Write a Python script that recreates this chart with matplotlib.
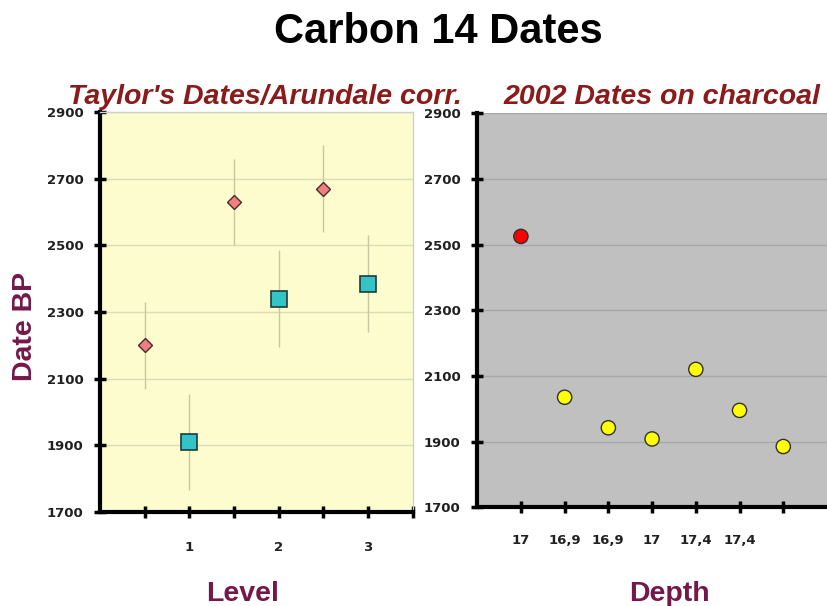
import matplotlib.pyplot as plt

# --- Data ---
level_x = [0.5, 1.5, 2.5]
taylor_dates = [2200, 2630, 2670]
taylor_err = [130, 130, 130]

arundale_x = [1, 2, 3]
arundale_dates = [1910, 2340, 2385]
arundale_err = [145, 145, 145]

depth_labels = ["17", "16,9", "16,9", "17", "17,4", "17,4", ""]
charcoal_dates = [2525, 2035, 1942, 1908, 2120, 1995, 1885]

y_ticks = [1700, 1900, 2100, 2300, 2500, 2700, 2900]

plt.rcParams['font.family'] = ['Liberation Sans', 'DejaVu Sans']
label_col = "#74184a"
sub_col = "#8b1a1a"

fig = plt.figure(figsize=(8.27, 6.06), dpi=100)
fig.text(0.530, 0.947, "Carbon 14 Dates", ha="center", va="center",
         fontsize=30, fontweight="bold")

# --- Left panel ---
ax1 = fig.add_axes([0.121, 0.155, 0.378, 0.660])
ax1.set_facecolor("#fdfcce")
ax1.errorbar(level_x, taylor_dates, yerr=taylor_err, fmt="D", ms=7.5,
             mfc="#f08080", mec="#4a2a2a", mew=1, ecolor="#c8c8a0", elinewidth=1)
ax1.errorbar(arundale_x, arundale_dates, yerr=arundale_err, fmt="s", ms=11,
             mfc="#33c4c8", mec="#1f3a3a", mew=1.2, ecolor="#c8c8a0", elinewidth=1)
ax1.set_xlim(0, 3.5)
ax1.set_ylim(1700, 2900)
ax1.set_yticks(y_ticks)
xt = [0.5, 1, 1.5, 2, 2.5, 3, 3.5]
ax1.set_xticks(xt)
ax1.set_xticklabels(["", "1", "", "2", "", "3", ""])
ax1.grid(axis="y", color="#dedcb8", lw=1)
ax1.set_axisbelow(True)
for s in ["top", "right"]:
    ax1.spines[s].set_color("#d0d0d0")
    ax1.spines[s].set_linewidth(1)
for s in ["left", "bottom"]:
    ax1.spines[s].set_linewidth(3)
ax1.tick_params(direction="inout", length=8, width=2.5)
ax1.tick_params(axis="x", pad=17)
ax1.tick_params(axis="y", pad=8)
ax1.set_title("Taylor's Dates/Arundale corr.", color=sub_col, fontsize=20.5,
              fontweight="bold", fontstyle="italic", pad=6, x=0.527)
ax1.set_ylabel("Date BP", color=label_col, fontsize=20.5, fontweight="bold")
ax1.yaxis.set_label_coords(-0.198, 0.465)

# --- Right panel ---
ax2 = fig.add_axes([0.577, 0.163, 0.423, 0.650])
ax2.set_facecolor("#c0c0c0")
pos = list(range(1, len(charcoal_dates) + 1))
colors = ["#ff0000"] + ["#ffff00"] * (len(charcoal_dates) - 1)
ax2.scatter(pos, charcoal_dates, s=105, c=colors, edgecolors="#303030",
            linewidths=1, zorder=3)
ax2.set_xlim(0, 8.0)
ax2.set_ylim(1700, 2900)
ax2.set_yticks(y_ticks)
ax2.set_xticks(pos)
ax2.set_xticklabels(depth_labels)
ax2.grid(axis="y", color="#a8a8a8", lw=1)
ax2.set_axisbelow(True)
for s in ["top", "right"]:
    ax2.spines[s].set_visible(False)
for s in ["left", "bottom"]:
    ax2.spines[s].set_linewidth(3)
ax2.tick_params(direction="inout", length=8, width=2.5)
ax2.tick_params(axis="x", pad=15)
ax2.tick_params(axis="y", pad=8)
ax2.set_title("2002 Dates on charcoal", color=sub_col, fontsize=20.5,
              fontweight="bold", fontstyle="italic", pad=7, x=0.529)

# axis titles under the panels
fig.text(243 / 827, 1 - 601 / 606, "Level", ha="center", va="baseline",
         color=label_col, fontsize=20.5, fontweight="bold")
fig.text(669 / 827, 1 - 601 / 606, "Depth", ha="center", va="baseline",
         color=label_col, fontsize=20.5, fontweight="bold")

for ax in (ax1, ax2):
    for lab in ax.get_xticklabels() + ax.get_yticklabels():
        lab.set_family("DejaVu Sans")
        lab.set_fontsize(9.5)
        lab.set_fontweight("bold")
        lab.set_color("#202020")

fig.savefig("out.png", dpi=100)
